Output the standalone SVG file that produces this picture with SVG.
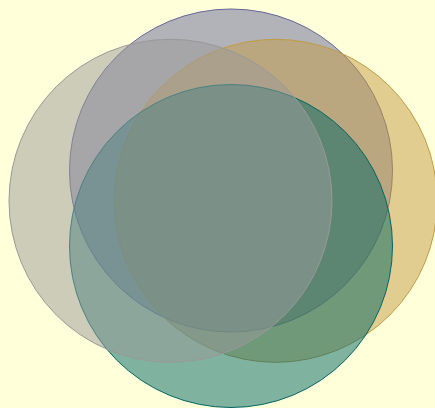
<svg xmlns="http://www.w3.org/2000/svg" width="435" height="408" viewBox="0 0 435 408">
<style>
.c{fill-opacity:0.5;stroke-width:1}
</style>
<rect width="435" height="408" fill="#ffffd9"/>
<g id="top"><circle class="c" cx="231" cy="170.5" r="161.5" fill="#666699" stroke="#666699"/></g>
<g id="right"><circle class="c" cx="275.7" cy="200.8" r="161.5" fill="#c19b45" stroke="#c19b45"/></g>
<g id="bottom"><circle class="c" cx="231" cy="246" r="161.5" fill="#006666" stroke="#006666"/></g>
<g id="left"><circle class="c" cx="170.5" cy="200.8" r="161.5" fill="#999999" stroke="#999999"/></g>
<g id="connectors"></g>
</svg>
